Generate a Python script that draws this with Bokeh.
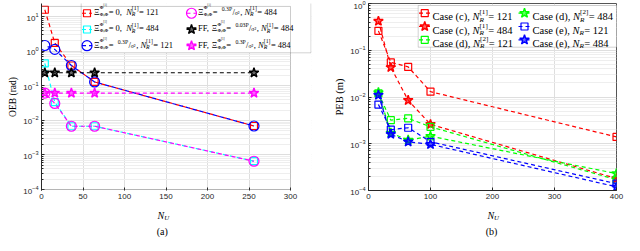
from bokeh.plotting import figure
from bokeh.models import Range1d, LinearScale, Label, BoxAnnotation, FixedTicker
from bokeh.layouts import row, column
from bokeh.embed import file_html
from bokeh.resources import INLINE

# ---------------- data: panel (a) ----------------
nu_a = [4, 16, 36, 64, 256]
oeb_zero_121 = [16.0, 1.76, 0.39, 0.13, 0.0069]
oeb_zero_484 = [0.45, 0.034, 0.0068, 0.0068, 0.00066]
oeb_03_121 = [1.48, 1.14, 0.39, 0.13, 0.0069]
oeb_03_484 = [0.062, 0.031, 0.0068, 0.0068, 0.00066]
oeb_ff_003_484 = [0.24, 0.24, 0.24, 0.24, 0.24]
oeb_ff_03_484 = [0.062, 0.062, 0.062, 0.062, 0.062]
xticks_a = [0, 50, 100, 150, 200, 250, 300]
yticks_a = [1e-4, 1e-3, 1e-2, 1e-1, 1, 10]
xlim_a = (0, 300)
ylim_a = (1e-4, 20)

# ---------------- data: panel (b) ----------------
nu_b = [16, 36, 64, 100, 400]
peb_c_121 = [0.26, 0.055, 0.044, 0.013, 0.0014]
peb_c_484 = [0.42, 0.043, 0.0085, 0.0026, 0.00018]
peb_d_121 = [0.012, 0.0032, 0.0035, 0.0023, 0.00017]
peb_d_484 = [0.0125, 0.0017, 0.0012, 0.00145, 0.00023]
peb_e_121 = [0.0069, 0.0020, 0.0022, 0.0011, 0.00014]
peb_e_484 = [0.011, 0.0016, 0.0011, 0.00097, 0.00012]
xticks_b = [0, 100, 200, 300, 400]
yticks_b = [1e-4, 1e-3, 1e-2, 1e-1, 1]
xlim_b = (0, 400)
ylim_b = (1e-4, 1)

SER = "Liberation Serif"
SANS = "Liberation Sans"
AXC = "#262626"
BOXC = "#555555"
STAR_FILL = 0.6

CW = {' ': 0.25, '(': 0.333, ')': 0.333, ',': 0.25, '.': 0.25, '=': 0.564,
      '[': 0.333, ']': 0.333, '/': 0.278, 'C': 0.667, 'a': 0.444, 's': 0.389,
      'e': 0.444, 'c': 0.444, 'd': 0.5, 'F': 0.556, 'P': 0.6, 'N': 0.667,
      'R': 0.611, 'U': 0.722, 'Ξ': 0.65, 'Φ': 0.76, 'σ': 0.55, '²': 0.3}


def tw(s, size):
    return size * sum(CW.get(ch, 0.5) for ch in s)


def lab(p, x, y, text, size, style="normal", align="left", font=SER):
    p.add_layout(Label(x=x, y=y, x_units="screen", y_units="screen", text=text,
                       text_font=font, text_font_size=f"{size:.2f}px",
                       text_font_style=style, text_align=align,
                       text_baseline="alphabetic", text_color="black"))


def rich(p, x, y, base, parts):
    for part in parts:
        k = part[0]
        if k == "t":
            lab(p, x, y, part[1], base, part[2])
            x += tw(part[1], base)
        elif k == "ss":
            _, sup, sub = part
            s2 = 0.68 * base
            w = 0
            if sup:
                lab(p, x, y + 0.42 * base, sup, s2)
                w = tw(sup, s2)
            if sub:
                lab(p, x, y - 0.28 * base, sub, s2, "italic")
                w = max(w, tw(sub, s2))
            x += w + 0.4
        elif k == "xi":
            lab(p, x, y, "Ξ", base)
            x += tw("Ξ", base) + 0.3
            s2 = 0.52 * base
            lab(p, x, y + 0.48 * base, "Φ", s2, "bold")
            lab(p, x + tw("Φ", s2), y + 0.75 * base, "[1]", 0.38 * base)
            lab(p, x, y - 0.3 * base, "Φ,Φ", s2, "bold")
            x += tw("Φ,Φ", s2) + 1.0
        elif k == "frac":
            _, num, den = part
            s2 = 0.68 * base
            lab(p, x, y + 0.32 * base, num, s2)
            x += tw(num, s2)
            lab(p, x, y, "/", base)
            x += tw("/", base)
            lab(p, x, y - 0.15 * base, den, s2)
            x += tw(den, s2) + 0.5
    return x


def make_fig(w, h, xr, yr, bl, br, bt, bb, xt, yt, ylabel, ylsize):
    p = figure(width=w, height=h, x_range=Range1d(*xr), y_range=Range1d(*yr),
               y_axis_type="log", output_backend="svg", toolbar_location=None,
               min_border_left=bl, min_border_right=br, min_border_top=bt,
               min_border_bottom=bb, background_fill_color="white",
               border_fill_color="white")
    minor = [m * t for t in yt[:-1] for m in range(2, 10)]
    p.xaxis.ticker = FixedTicker(ticks=xt)
    p.yaxis.ticker = FixedTicker(ticks=yt, minor_ticks=minor)
    p.xgrid.ticker = FixedTicker(ticks=xt)
    p.ygrid.ticker = FixedTicker(ticks=yt, minor_ticks=minor)
    p.grid.grid_line_color = "#dedede"
    p.ygrid.minor_grid_line_color = "#eeeeee"
    p.outline_line_color = BOXC
    p.outline_line_width = 1
    for ax in (p.xaxis, p.yaxis):
        ax.axis_line_color = AXC
        ax.major_tick_line_color = AXC
        ax.minor_tick_line_color = AXC
        ax.major_tick_in = 3
        ax.major_tick_out = 0
        ax.minor_tick_in = 2
        ax.minor_tick_out = 0
        ax.major_label_text_font = SANS
        ax.major_label_text_font_size = "8px"
        ax.major_label_text_color = AXC
        ax.major_label_standoff = 3
    p.xaxis.minor_tick_line_color = None
    p.yaxis.axis_label = ylabel
    p.yaxis.axis_label_text_font = SER
    p.yaxis.axis_label_text_font_style = "normal"
    p.yaxis.axis_label_text_font_size = ylsize
    p.yaxis.axis_label_text_color = "black"
    p.yaxis.axis_label_standoff = 2
    fw = w - bl - br
    fh = h - bt - bb
    p.extra_x_ranges = {"px": Range1d(0, fw)}
    p.extra_y_ranges = {"px": Range1d(0, fh)}
    p.extra_x_scales = {"px": LinearScale()}
    p.extra_y_scales = {"px": LinearScale()}
    return p


def make_strip(w, h):
    s = figure(width=w, height=h, x_range=Range1d(0, w), y_range=Range1d(0, h),
               output_backend="svg", toolbar_location=None, min_border=0,
               x_axis_location=None, y_axis_location=None,
               background_fill_color="white", border_fill_color="white")
    s.grid.visible = False
    s.outline_line_color = None
    return s


def legend_box(p, l, r, t, b):
    kw = dict(left=l, right=r, top=t, bottom=b, left_units="screen", right_units="screen",
              top_units="screen", bottom_units="screen")
    p.add_layout(BoxAnnotation(fill_color="white", fill_alpha=1.0, line_color=None,
                               level="underlay", **kw))
    p.add_layout(BoxAnnotation(fill_color=None, fill_alpha=0.0, line_color="#444444",
                               line_width=0.8, level="annotation", **kw))


def marker_kw(color, marker):
    if marker == "star":
        return dict(fill_color=color, fill_alpha=STAR_FILL, line_width=1.4)
    return dict(fill_color=None, line_width=1.2)


def sample(p, x0, x1, yc, color, marker, size, dash):
    p.line([x0, x1], [yc, yc], line_color=color, line_width=1.2, line_dash=dash,
           x_range_name="px", y_range_name="px")
    p.scatter([(x0 + x1) / 2], [yc], marker=marker, size=size, line_color=color,
              x_range_name="px", y_range_name="px", **marker_kw(color, marker))


MAIN_H = 205
STRIP_H = 40

# ================= panel (a) =================
# the frame is widened to the right (and up) so that the legend can stick out of the axes box
PXU_A = 249 / 300.0          # px per x unit
DEC_A = 188 / 5.30103        # px per decade
A_L, A_R, A_T, A_B = 41, 311, 0, 192
xr_a = (xlim_a[0], xlim_a[0] + (A_R - A_L) / PXU_A)
yr_a = (ylim_a[0] / 10 ** (1 / DEC_A), ylim_a[1] * 10 ** (3 / DEC_A))
pa = make_fig(320, MAIN_H, xr_a, yr_a, A_L, 320 - A_R, A_T, MAIN_H - A_B,
              xticks_a, yticks_a, "OEB (rad)", "9.5px")
pa.outline_line_color = None
pa.xaxis.axis_line_color = None
# hide grid beyond the axes box
pa.add_layout(BoxAnnotation(left=xlim_a[1], fill_color="white", fill_alpha=1.0,
                            line_color=None, level="underlay"))
# axes box
pa.add_layout(BoxAnnotation(left=xlim_a[0], right=xlim_a[1], bottom=ylim_a[0], top=ylim_a[1],
                            fill_color=None, fill_alpha=0.0, line_color=BOXC, line_width=1,
                            level="annotation"))

styles_a = [
    (oeb_zero_121, "#ff0000", "square", 7, 0),
    (oeb_zero_484, "#00ffff", "square", 7, 0),
    (oeb_03_121, "#0000ff", "circle", 10, 4),
    (oeb_03_484, "#ff00ff", "circle", 10, 4),
    (oeb_ff_003_484, "#000000", "star", 10, 0),
    (oeb_ff_03_484, "#ff00ff", "star", 10, 0),
]
for ys, c, mk, sz, off in styles_a:
    pa.line(nu_a, ys, line_color=c, line_width=1.2, line_dash="4 3", line_dash_offset=off)
    pa.scatter(nu_a, ys, marker=mk, size=sz, line_color=c, **marker_kw(c, mk))

legend_box(pa, 39.7, 269.5, A_B - 0.7, A_B - 54.3)
rows_a = [A_B - 10.0, A_B - 26.7, A_B - 43.3]
cols_a = [(40.5, 50.5, 52.5), (145.0, 155.0, 156.5)]
ba = 8.5
leg_a = [
    (0, 0, "#ff0000", "square", 7, [("xi",), ("t", " = 0, ", "normal"), ("t", "N", "italic"), ("ss", "[1]", "R"), ("t", " = 121", "normal")]),
    (0, 1, "#00ffff", "square", 7, [("xi",), ("t", " = 0, ", "normal"), ("t", "N", "italic"), ("ss", "[1]", "R"), ("t", " = 484", "normal")]),
    (0, 2, "#0000ff", "circle", 10, [("xi",), ("t", " = ", "normal"), ("frac", "0.3P", "σ²"), ("t", ", ", "normal"), ("t", "N", "italic"), ("ss", "[1]", "R"), ("t", " = 121", "normal")]),
    (1, 0, "#ff00ff", "circle", 10, [("xi",), ("t", " = ", "normal"), ("frac", "0.3P", "σ²"), ("t", ", ", "normal"), ("t", "N", "italic"), ("ss", "[1]", "R"), ("t", " = 484", "normal")]),
    (1, 1, "#000000", "star", 10, [("t", "FF, ", "normal"), ("xi",), ("t", " = ", "normal"), ("frac", "0.03P", "σ²"), ("t", ", ", "normal"), ("t", "N", "italic"), ("ss", "[1]", "R"), ("t", " = 484", "normal")]),
    (1, 2, "#ff00ff", "star", 10, [("t", "FF, ", "normal"), ("xi",), ("t", " = ", "normal"), ("frac", "0.3P", "σ²"), ("t", ", ", "normal"), ("t", "N", "italic"), ("ss", "[1]", "R"), ("t", " = 484", "normal")]),
]
for ci, ri, c, mk, sz, parts in leg_a:
    x0, x1, xt = cols_a[ci]
    yc = rows_a[ri]
    sample(pa, x0, x1, yc, c, mk, sz, "4 3")
    rich(pa, xt, yc - 3.0, ba, parts)

sa = make_strip(320, STRIP_H)
rich(sa, 157.0, 245 - 214.5, 10, [("t", "N", "italic"), ("ss", "", "U")])
lab(sa, 161.7, 245 - 230.5, "(a)", 10, align="center")

# ================= panel (b) =================
pb = make_fig(312, MAIN_H, xlim_b, ylim_b, 48, 16, 3, MAIN_H - 190, xticks_b, yticks_b,
              "PEB (m)", "10.5px")

styles_b = [
    (peb_c_121, "#ff0000", "square", 7),
    (peb_c_484, "#ff0000", "star", 10),
    (peb_d_121, "#00ff00", "square", 7),
    (peb_d_484, "#00ff00", "star", 10),
    (peb_e_121, "#0000ff", "square", 7),
    (peb_e_484, "#0000ff", "star", 10),
]
for ys, c, mk, sz in styles_b:
    pb.line(nu_b, ys, line_color=c, line_width=1.2, line_dash="4 3")
    pb.scatter(nu_b, ys, marker=mk, size=sz, line_color=c, **marker_kw(c, mk))

legend_box(pb, 49.7, 248.5, 185.0, 143.3)
rows_b = [177.3, 164.0, 150.7]
cols_b = [(50.5, 62.0, 64.0), (150.0, 162.0, 164.0)]
bb_ = 10.5
leg_b = [
    (0, 0, "#ff0000", "square", 7, "Case (c), ", "[1]", " = 121"),
    (0, 1, "#ff0000", "star", 10, "Case (c), ", "[1]", " = 484"),
    (0, 2, "#00ff00", "square", 7, "Case (d), ", "[2]", " = 121"),
    (1, 0, "#00ff00", "star", 10, "Case (d), ", "[2]", " = 484"),
    (1, 1, "#0000ff", "square", 7, "Case (e), ", "", " = 121"),
    (1, 2, "#0000ff", "star", 10, "Case (e), ", "", " = 484"),
]
for ci, ri, c, mk, sz, pre, sup, post in leg_b:
    x0, x1, xt = cols_b[ci]
    yc = rows_b[ri]
    sample(pb, x0, x1, yc, c, mk, sz, "4 3")
    rich(pb, xt, yc - 3.6, bb_, [("t", pre, "normal"), ("t", "N", "italic"),
                                 ("ss", sup, "R"), ("t", post, "normal")])

sb = make_strip(312, STRIP_H)
rich(sb, 486.9 - 320, 245 - 214.5, 10, [("t", "N", "italic"), ("ss", "", "U")])
lab(sb, 491.0 - 320, 245 - 230.5, "(b)", 10, align="center")

layout = column(row(pa, pb), row(sa, sb))
open("out.html", "w").write(file_html(layout, INLINE))
